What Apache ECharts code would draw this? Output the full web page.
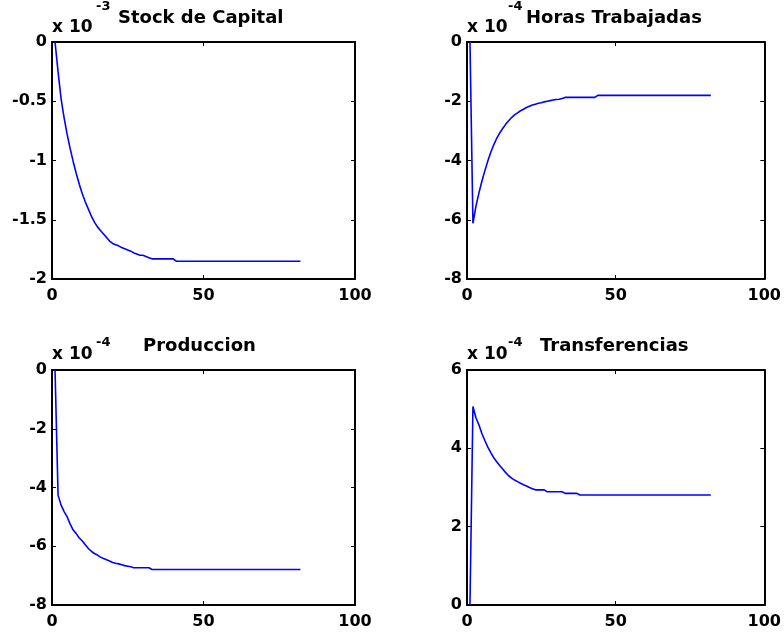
<!DOCTYPE html>
<html><head><meta charset="utf-8">
<script src="https://cdn.jsdelivr.net/npm/echarts@6/dist/echarts.min.js"></script>
<style>html,body{margin:0;padding:0;background:#fff}#c{width:784px;height:632px}</style>
</head><body><div id="c"></div>
<script>
// Values in units of the panel's exponent (x10^-3 or x10^-4), periods 1..82
const capital = [
  0, -0.25, -0.48, -0.64, -0.78, -0.90, -1.01, -1.11, -1.20, -1.28,
  -1.35, -1.41, -1.47, -1.52, -1.56, -1.59, -1.62, -1.65, -1.68, -1.70,
  -1.71, -1.72, -1.735, -1.745, -1.755, -1.765, -1.78, -1.79, -1.80, -1.80,
  -1.81, -1.82, -1.83, -1.83, -1.83, -1.83, -1.83, -1.83, -1.83, -1.83,
  -1.85, -1.85, -1.85, -1.85, -1.85, -1.85, -1.85, -1.85, -1.85, -1.85,
  -1.85, -1.85, -1.85, -1.85, -1.85, -1.85, -1.85, -1.85, -1.85, -1.85,
  -1.85, -1.85, -1.85, -1.85, -1.85, -1.85, -1.85, -1.85, -1.85, -1.85,
  -1.85, -1.85, -1.85, -1.85, -1.85, -1.85, -1.85, -1.85, -1.85, -1.85,
  -1.85, -1.85
];
const horas = [
  0, -6.12, -5.55, -5.10, -4.70, -4.35, -4.02, -3.72, -3.47, -3.25,
  -3.07, -2.92, -2.78, -2.66, -2.55, -2.46, -2.39, -2.32, -2.27, -2.21,
  -2.17, -2.13, -2.10, -2.07, -2.05, -2.02, -2.00, -1.98, -1.96, -1.94,
  -1.93, -1.91, -1.87, -1.87, -1.87, -1.87, -1.87, -1.87, -1.87, -1.87,
  -1.87, -1.87, -1.87, -1.80, -1.80, -1.80, -1.80, -1.80, -1.80, -1.80,
  -1.80, -1.80, -1.80, -1.80, -1.80, -1.80, -1.80, -1.80, -1.80, -1.80,
  -1.80, -1.80, -1.80, -1.80, -1.80, -1.80, -1.80, -1.80, -1.80, -1.80,
  -1.80, -1.80, -1.80, -1.80, -1.80, -1.80, -1.80, -1.80, -1.80, -1.80,
  -1.80, -1.80
];
const produccion = [
  0, -4.26, -4.60, -4.82, -5.00, -5.25, -5.45, -5.57, -5.72, -5.82,
  -5.95, -6.08, -6.17, -6.25, -6.30, -6.37, -6.42, -6.46, -6.50, -6.55,
  -6.58, -6.60, -6.63, -6.66, -6.68, -6.70, -6.73, -6.73, -6.73, -6.73,
  -6.73, -6.73, -6.79, -6.79, -6.79, -6.79, -6.79, -6.79, -6.79, -6.79,
  -6.79, -6.79, -6.79, -6.79, -6.79, -6.79, -6.79, -6.79, -6.79, -6.79,
  -6.79, -6.79, -6.79, -6.79, -6.79, -6.79, -6.79, -6.79, -6.79, -6.79,
  -6.79, -6.79, -6.79, -6.79, -6.79, -6.79, -6.79, -6.79, -6.79, -6.79,
  -6.79, -6.79, -6.79, -6.79, -6.79, -6.79, -6.79, -6.79, -6.79, -6.79,
  -6.79, -6.79
];
const transferencias = [
  0, 5.07, 4.78, 4.60, 4.38, 4.20, 4.03, 3.89, 3.76, 3.66,
  3.56, 3.47, 3.38, 3.30, 3.24, 3.19, 3.15, 3.11, 3.07, 3.04,
  3.00, 2.97, 2.94, 2.94, 2.94, 2.94, 2.89, 2.89, 2.89, 2.89,
  2.89, 2.89, 2.85, 2.85, 2.85, 2.85, 2.85, 2.81, 2.81, 2.81,
  2.81, 2.81, 2.81, 2.81, 2.81, 2.81, 2.81, 2.81, 2.81, 2.81,
  2.81, 2.81, 2.81, 2.81, 2.81, 2.81, 2.81, 2.81, 2.81, 2.81,
  2.81, 2.81, 2.81, 2.81, 2.81, 2.81, 2.81, 2.81, 2.81, 2.81,
  2.81, 2.81, 2.81, 2.81, 2.81, 2.81, 2.81, 2.81, 2.81, 2.81,
  2.81, 2.81
];
const titles = ['Stock de Capital', 'Horas Trabajadas', 'Produccion', 'Transferencias'];
const exponents = ['-3', '-4', '-4', '-4'];
const xTicks = {min: 0, max: 100, interval: 50};
const yRanges = [
  {min: -2, max: 0, interval: 0.5},
  {min: -8, max: 0, interval: 2},
  {min: -8, max: 0, interval: 2},
  {min: 0, max: 6, interval: 2}
];
const seriesValues = [capital, horas, produccion, transferencias];

const FONT = '"DejaVu Sans", sans-serif';
const grids = [
  {left: 52, top: 42, width: 303, height: 237},
  {left: 467, top: 42, width: 300, height: 237},
  {left: 52, top: 370, width: 303, height: 235},
  {left: 467, top: 370, width: 300, height: 235}
];
const titlePos = [
  {tx: 118, ty: 18, xx: 52, xy: 28, ex: 96, ey: 7},
  {tx: 526, ty: 18, xx: 467, xy: 28, ex: 508, ey: 7},
  {tx: 143, ty: 346, xx: 52, xy: 355, ex: 96, ey: 343},
  {tx: 540, ty: 346, xx: 467, xy: 355, ex: 508, ey: 343}
];

const lineStyle = {color: '#000', width: 2};
const xAxis = [], yAxis = [], series = [], graphic = [];
grids.forEach((g, i) => {
  xAxis.push({
    type: 'value', gridIndex: i, position: 'bottom', min: xTicks.min, max: xTicks.max, interval: xTicks.interval,
    axisLine: {show: true, onZero: false, lineStyle},
    axisTick: {show: true, inside: true, length: 4, lineStyle: {color: '#000', width: 1}},
    axisLabel: {color: '#000', fontFamily: FONT, fontWeight: 'bold', fontSize: 16, margin: 9},
    splitLine: {show: false}
  });
  xAxis.push({
    type: 'value', gridIndex: i, position: 'top', min: xTicks.min, max: xTicks.max, interval: xTicks.interval,
    axisLine: {show: true, onZero: false, lineStyle},
    axisTick: {show: true, inside: true, length: 4, lineStyle: {color: '#000', width: 1}},
    axisLabel: {show: false}, splitLine: {show: false}
  });
  yAxis.push({
    type: 'value', gridIndex: i, position: 'left', min: yRanges[i].min, max: yRanges[i].max, interval: yRanges[i].interval,
    axisLine: {show: true, onZero: false, lineStyle},
    axisTick: {show: true, inside: true, length: 4, lineStyle: {color: '#000', width: 1}},
    axisLabel: {color: '#000', fontFamily: FONT, fontWeight: 'bold', fontSize: 16, margin: 5},
    splitLine: {show: false}
  });
  yAxis.push({
    type: 'value', gridIndex: i, position: 'right', min: yRanges[i].min, max: yRanges[i].max, interval: yRanges[i].interval,
    axisLine: {show: true, onZero: false, lineStyle},
    axisTick: {show: true, inside: true, length: 4, lineStyle: {color: '#000', width: 1}},
    axisLabel: {show: false}, splitLine: {show: false}
  });
  series.push({
    type: 'line', xAxisIndex: 2 * i, yAxisIndex: 2 * i, showSymbol: false, symbol: 'none',
    lineStyle: {color: '#0000ff', width: 1.6}, animation: false,
    data: seriesValues[i].map((v, k) => [k + 1, v])
  });
  const p = titlePos[i];
  graphic.push({type: 'text', style: {text: titles[i], x: p.tx, y: p.ty, fill: '#000',
    font: 'bold 18px ' + FONT, textAlign: 'left', textVerticalAlign: 'middle'}});
  graphic.push({type: 'text', style: {text: 'x 10', x: p.xx, y: p.xy, fill: '#000',
    font: 'bold 17px ' + FONT, textAlign: 'left', textVerticalAlign: 'middle'}});
  graphic.push({type: 'text', style: {text: exponents[i], x: p.ex, y: p.ey, fill: '#000',
    font: 'bold 13px ' + FONT, textAlign: 'left', textVerticalAlign: 'middle'}});
});

const chart = echarts.init(document.getElementById('c'), null, {renderer: 'canvas'});
chart.setOption({
  animation: false,
  backgroundColor: '#fff',
  grid: grids.map(g => Object.assign({containLabel: false}, g)),
  xAxis, yAxis, series, graphic
});
</script>
</body></html>
